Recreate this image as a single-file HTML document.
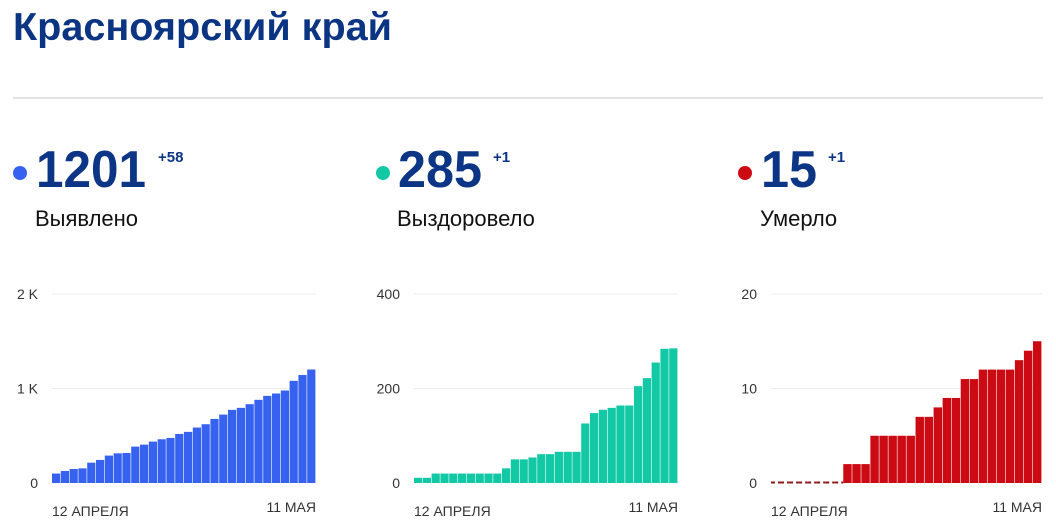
<!DOCTYPE html>
<html><head><meta charset="utf-8"><style>
html,body{margin:0;padding:0;background:#fff;width:1056px;height:531px;overflow:hidden}
svg{display:block;font-family:"Liberation Sans",sans-serif}
</style></head><body>
<svg id="root" width="1056" height="531" viewBox="0 0 1056 531">
<text x="13" y="40" font-size="39" font-weight="bold" fill="#0b3583" textLength="379" lengthAdjust="spacingAndGlyphs">Красноярский край</text>
<line x1="13" y1="98" x2="1043" y2="98" stroke="#e4e4e4" stroke-width="2"/>
<g id="charts"></g>
</svg>
<script>
const categories = Array.from({length:30},(_,i)=>i); // 12 April .. 11 May (30 days)
const xTickLabels = ["12 АПРЕЛЯ","11 МАЯ"];
const confirmed = [100,127,148,155,215,244,290,314,318,385,406,438,463,477,519,541,587,622,678,724,774,795,834,880,922,947,979,1081,1143,1201];
const recovered = [11,11,20,20,20,20,20,20,20,20,31,50,50,54,61,61,66,66,66,126,148,155,159,164,164,205,222,255,284,285];
const deaths = [0,0,0,0,0,0,0,0,2,2,2,5,5,5,5,5,7,7,8,9,9,11,11,12,12,12,12,13,14,15];
const ticksConfirmed = [0,1000,2000], tickLabelsConfirmed = ["0","1 K","2 K"];
const ticksRecovered = [0,200,400], tickLabelsRecovered = ["0","200","400"];
const ticksDeaths = [0,10,20], tickLabelsDeaths = ["0","10","20"];
const totals = ["1201","285","15"], deltas = ["+58","+1","+1"], labels = ["Выявлено","Выздоровело","Умерло"];

const NS="http://www.w3.org/2000/svg";
const g=document.getElementById('charts');
function mk(tag,attrs,parent){const e=document.createElementNS(NS,tag);for(const k in attrs)e.setAttribute(k,attrs[k]);(parent||g).appendChild(e);return e;}

const panels=[
 {data:confirmed,ticks:ticksConfirmed,tl:tickLabelsConfirmed,max:2000,x0:52,x1:316,color:"#3762f0",dotX:20,numX:36,name:"confirmed",numW:110,supX:158},
 {data:recovered,ticks:ticksRecovered,tl:tickLabelsRecovered,max:400,x0:414,x1:678,color:"#13c8a5",dotX:383,numX:398,name:"recovered",numW:84,supX:493},
 {data:deaths,ticks:ticksDeaths,tl:tickLabelsDeaths,max:20,x0:771,x1:1042,color:"#cc0a14",dotX:745,numX:761,name:"deaths",numW:56,supX:828}
];
const yTop=294,yBase=483;
panels.forEach((p,pi)=>{
  const grp=mk('g',{});
  
  
  const dot=mk('circle',{cx:p.dotX,cy:173,r:7,fill:p.color},grp);
  
  
  const n=mk('text',{x:p.numX,y:187,'font-size':52,'font-weight':'bold',fill:'#0c3585',textLength:p.numW,lengthAdjust:'spacingAndGlyphs'},grp);n.textContent=totals[pi];
  
  
  const s=mk('text',{x:p.supX,y:162,'font-size':15,'font-weight':'bold',fill:'#0c3585'},grp);s.textContent=deltas[pi];
  
  
  const l=mk('text',{x:p.numX-1,y:226,'font-size':22,fill:'#111'},grp);l.textContent=labels[pi];
  
  
  const y=v=>yBase-(v/p.max)*(yBase-yTop);
  const bw=(p.x1-p.x0)/categories.length;
  const xs=i=>p.x0+i*bw;
  p.ticks.forEach((t,ti)=>{
    if(ti>0){const gl=mk('line',{x1:p.x0,x2:p.x1,y1:y(t),y2:y(t),stroke:'#ececec','stroke-width':1},grp);
    
    }
    const tx=mk('text',{x:p.x0-14,y:y(t)+5,'font-size':14,fill:'#333','text-anchor':'end'},grp);tx.textContent=p.tl[ti];
    
    
  });
  p.data.forEach((v,i)=>{
    if(v<=0){
      const d=mk('line',{x1:xs(i),x2:xs(i)+bw,y1:yBase-0.5,y2:yBase-0.5,stroke:'#8b1a1a','stroke-width':2,'stroke-dasharray':'4 3'},grp);
      
      
      return;
    }
    const r=mk('rect',{x:xs(i),y:y(v),width:bw-0.6,height:yBase-y(v),fill:p.color},grp);
    
    
  });
  const a=mk('text',{x:p.x0,y:516,'font-size':14,fill:'#333'},grp);a.textContent=xTickLabels[0];
  
  
  const b=mk('text',{x:p.x1,y:512,'font-size':14,fill:'#333','text-anchor':'end'},grp);b.textContent=xTickLabels[1];
  
  
});
</script>
</body></html>
